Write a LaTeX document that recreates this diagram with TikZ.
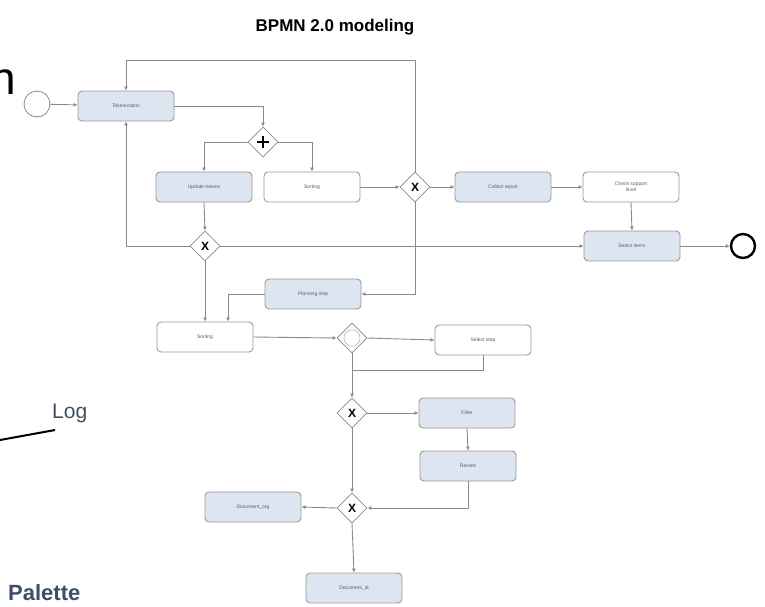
\documentclass[tikz,border=0pt]{standalone}
\usepackage{fontspec}
\setmainfont{Liberation Sans}
\usetikzlibrary{shapes.geometric,arrows.meta,calc}
\definecolor{lineg}{HTML}{8A8A8A}
\definecolor{boxb}{HTML}{9A9A9A}
\definecolor{bluef}{HTML}{DCE5F0}
\definecolor{labc}{HTML}{556070}
\definecolor{txtc}{HTML}{3E4E66}
\tikzset{
  task/.style={draw=boxb, line width=0.9pt, rounded corners=4pt, minimum width=96pt, minimum height=30pt, inner sep=1pt, font=\fontsize{5}{6}\selectfont, text=labc, align=center, fill=white},
  btask/.style={task, fill=bluef},
  gw/.style={draw=lineg, diamond, fill=white, minimum width=30pt, minimum height=30pt, inner sep=0pt, line width=0.8pt},
  arr/.style={draw=lineg, line width=0.9pt, -{Latex[length=4pt,width=4pt]}},
  ln/.style={draw=lineg, line width=0.9pt},
}
\begin{document}
\begin{tikzpicture}[x=1pt,y=-1pt]
\useasboundingbox (0,0) rectangle (765,606);
% title and side texts
\node[font=\bfseries\fontsize{17}{20}\selectfont] (title) at (335,27) {BPMN 2.0 modeling};
\node[font=\fontsize{46}{50}\selectfont, anchor=base east, inner sep=0pt] (nn) at (16,94) {n};
\node[font=\fontsize{21}{24}\selectfont, text=txtc, anchor=base west, inner sep=0pt] (log) at (52,418) {Log};
\coordinate (l0) at (0,440);
\coordinate (l1) at (55,430);
\draw[line width=2pt] (l0) -- (l1);
\node[font=\bfseries\fontsize{22}{26}\selectfont, text=txtc, anchor=base west, inner sep=0pt] (pal) at (8,600) {Palette};
% events
\node[draw=lineg, circle, minimum size=26pt, line width=0.8pt, inner sep=0pt] (start) at (37,104) {};
\node[draw, circle, minimum size=24pt, line width=2.4pt, inner sep=0pt] (end) at (743,246) {};
% tasks
\node[btask] (t1) at (126,106) {Tokenization};
\node[btask] (t2) at (204,187) {Update tokens};
\node[task] (t3) at (312,187) {Sorting};
\node[btask] (t4) at (503,187) {Collect report};
\node[task] (t5) at (631,187) {Check support\\level};
\node[btask] (t6) at (632,246) {Select items};
\node[task] (t7) at (205,337) {Sorting};
\node[btask] (t8) at (313,294) {Planning step};
\node[task] (t9) at (483,340) {Select step};
\node[btask] (t10) at (467,413) {Filter};
\node[btask] (t11) at (468,466) {Rerank};
\node[btask] (t12) at (253,507) {Document\_org};
\node[btask] (t13) at (354,588) {Document\_id};
% gateways
\node[gw] (g1) at (263,142) {};
\draw[line width=2.2pt] ($(g1)+(-6,0)$) -- ($(g1)+(6,0)$) ($(g1)+(0,-6)$) -- ($(g1)+(0,6)$);
\node[gw, font=\bfseries\fontsize{12}{12}\selectfont] (x1) at (415,187) {X};
\node[gw, font=\bfseries\fontsize{12}{12}\selectfont] (x2) at (205,246) {X};
\node[gw] (eg) at (352,338) {};
\draw[lineg!60, line width=0.6pt] (eg) circle (8pt);
\node[gw, font=\bfseries\fontsize{12}{12}\selectfont] (x3) at (352,413) {X};
\node[gw, font=\bfseries\fontsize{12}{12}\selectfont] (x4) at (352,508) {X};
% connectors
\coordinate (topl) at (126,60);
\coordinate (topr) at (415,60);
\coordinate (j1) at (352,370);
\coordinate (t7in) at ($(t7.north)+(23,0)$);
\draw[arr] (start) -- (t1);
\draw[arr] (t1.east) -| (g1.north);
\draw[arr] (g1.west) -| (t2.north);
\draw[arr] (g1.east) -| (t3.north);
\draw[arr] (t3.east) -- (x1.west);
\draw[arr] (x1.east) -- (t4.west);
\draw[arr] (t4.east) -- (t5.west);
\draw[arr] (t5.south) -- (t6.north);
\draw[arr] (t6.east) -- (end.west);
\draw[arr] (t2.south) -- (x2.north);
\draw[arr] (x2.west) -| (t1.south);
\draw[arr] (x2.east) -- (t6.west);
\draw[arr] (x2.south) -- (t7.north);
\draw[arr] (x1.north) -- (topr) -- (topl) -- (t1.north);
\draw[arr] (x1.south) |- (t8.east);
\draw[arr] (t8.west) -| (t7in);
\draw[arr] (t7.east) -- (eg.west);
\draw[arr] (eg.east) -- (t9.west);
\draw[arr] (eg.south) -- (x3.north);
\draw[ln] (t9.south) |- (j1);
\draw[arr] (x3.east) -- (t10.west);
\draw[arr] (t10.south) -- (t11.north);
\draw[arr] (t11.south) |- (x4.east);
\draw[arr] (x3.south) -- (x4.north);
\draw[arr] (x4.west) -- (t12.east);
\draw[arr] (x4.south) -- (t13.north);
\end{tikzpicture}
\end{document}
